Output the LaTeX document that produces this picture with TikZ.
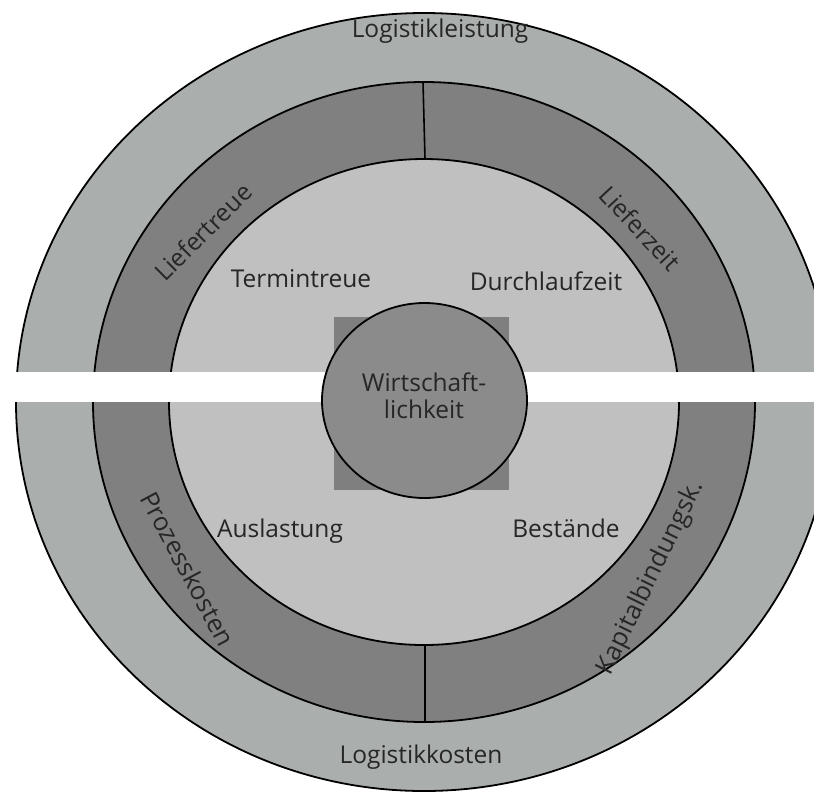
\documentclass[tikz,border=0pt]{standalone}
\usepackage{fontspec}
\setmainfont{Open Sans}
\definecolor{outerc}{HTML}{AAAFAE}
\definecolor{ringc}{HTML}{808080}
\definecolor{innerc}{HTML}{C0C0C0}
\definecolor{corec}{HTML}{8B8B8B}
\definecolor{squarec}{HTML}{7F7F7F}
\begin{document}
\begin{tikzpicture}[x=1pt,y=-1pt,
  edge/.style={draw=black,line width=1.8pt},
  lbl/.style={font=\fontsize{24.5}{29}\selectfont,text=black!85,inner sep=0pt,align=center},
  biglbl/.style={lbl,font=\fontsize{25.5}{30}\selectfont}]
\useasboundingbox (0,0) rectangle (814,796);
\coordinate (c) at (424,402);
\filldraw[fill=outerc,edge] (c) ellipse [x radius=408,y radius=389];
\filldraw[fill=ringc,edge] (c) ellipse [x radius=331,y radius=320];
\filldraw[fill=innerc,edge] (c) ellipse [x radius=255,y radius=243];
\coordinate (t1) at (423,82);
\coordinate (t2) at (425,159);
\coordinate (b1) at (425,645);
\coordinate (b2) at (425,722);
\draw[line width=1.6pt] (t1) -- (t2);
\draw[line width=1.6pt] (b1) -- (b2);
\fill[white] (0,372) rectangle (814,402);
\fill[squarec] (334,317) rectangle (509,490);
\filldraw[fill=corec,edge] (424.5,400.5) ellipse [x radius=102.5,y radius=97.5];
\node[lbl] (core) at (424,396) {Wirtschaft-\\[-2pt]lichkeit};
\node[lbl] (ll) at (440,31) {Logistikleistung};
\node[lbl] (lk) at (421,757) {Logistikkosten};
\node[lbl] (tt) at (301,279) {Termintreue};
\node[lbl] (dz) at (546,281) {Durchlaufzeit};
\node[lbl] (al) at (280,531) {Auslastung};
\node[lbl] (bs) at (566,528) {Bestände};
\node[lbl,rotate=45] (lt) at (203,232) {Liefertreue};
\node[lbl,rotate=-47] (lz) at (640,228) {Lieferzeit};
\node[biglbl,rotate=-62] (pk) at (188,569) {Prozesskosten};
\node[biglbl,rotate=64] (kb) at (651,578) {Kapitalbindungsk.};
\end{tikzpicture}
\end{document}
